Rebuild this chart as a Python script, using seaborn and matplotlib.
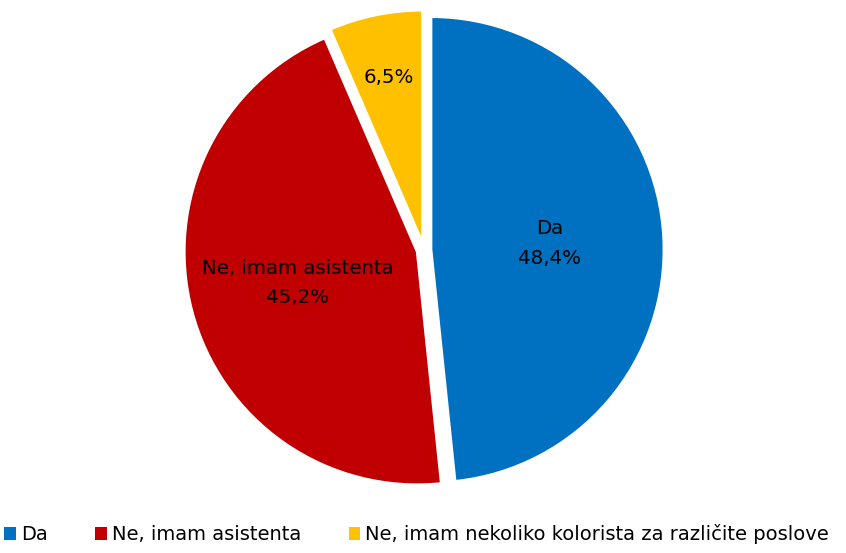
import numpy as np
import matplotlib
matplotlib.use("Agg")
import matplotlib.pyplot as plt
from matplotlib.patches import Patch
import seaborn as sns

# data
categories = ["Da", "Ne, imam asistenta", "Ne, imam nekoliko kolorista za različite poslove"]
short_labels = ["Da", "Ne, imam asistenta", ""]
values = [48.4, 45.2, 6.5]
pct_text = ["48,4%", "45,2%", "6,5%"]
colors = ["#0070C0", "#C00000", "#FFC000"]

sns.set_theme(style="white")
plt.rcParams['font.family'] = ['DejaVu Sans']

fig = plt.figure(figsize=(8.46, 5.53), dpi=100)
W, H = 846, 553
cx, cy, r = 424, 250, 233
lim = 1.1
ax = fig.add_axes([(cx - lim * r) / W, (H - cy - lim * r) / H, 2 * lim * r / W, 2 * lim * r / H])

wedges, _ = ax.pie(values, colors=colors, startangle=90, counterclock=False,
                   explode=[0.03, 0.03, 0.03],
                   wedgeprops=dict(edgecolor="white", linewidth=2))
ax.set_xlim(-lim, lim)
ax.set_ylim(-lim, lim)
ax.set_aspect("equal")
ax.axis("off")

# label radius per slice (fraction of radius)
label_r = [0.51, 0.53, 0.725]
for w, lab, pct, lr in zip(wedges, short_labels, pct_text, label_r):
    ang = np.deg2rad((w.theta1 + w.theta2) / 2)
    x = w.center[0] + lr * np.cos(ang)
    y = w.center[1] + lr * np.sin(ang)
    txt = f"{lab}\n{pct}" if lab else pct
    ax.text(x, y, txt, ha="center", va="center", fontsize=14.2, color="black",
            linespacing=1.7)

handles = [Patch(facecolor=c, edgecolor="none") for c in colors]
fig.legend(handles, categories, loc="lower left", bbox_to_anchor=(-0.016, -0.016),
           ncol=3, frameon=False, fontsize=14, handlelength=0.6, handleheight=0.6,
           handletextpad=0.26, columnspacing=2.45, labelcolor="black")

fig.savefig("out.png", dpi=100)
